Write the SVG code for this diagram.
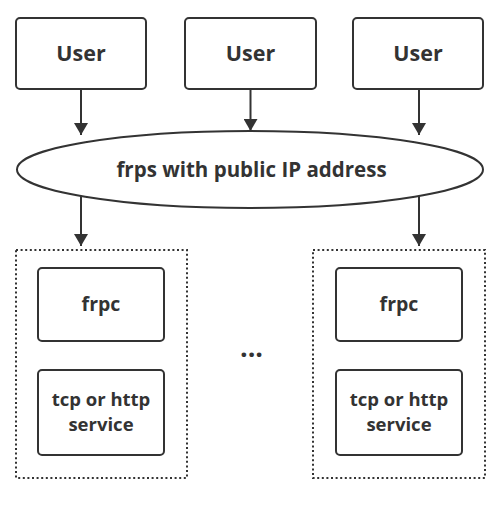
<svg xmlns="http://www.w3.org/2000/svg" width="499" height="509" viewBox="0 0 499 509">
<defs>
<style>
.box{fill:#fff;stroke:#333;stroke-width:2}
.dot{fill:none;stroke:#333;stroke-width:2;stroke-dasharray:2 2.6}
.t{font-family:"Open Sans","Noto Sans",sans-serif;font-weight:bold;fill:#333;text-anchor:middle}
.edge{stroke:#333;stroke-width:2;fill:none}
</style>
<marker id="arr" viewBox="0 0 12 14" refX="12" refY="7" markerWidth="12" markerHeight="14" markerUnits="userSpaceOnUse" orient="auto">
<path d="M0,0 L12,7 L0,14 Z" fill="#333"/>
</marker>
</defs>
<rect width="499" height="509" fill="#fff"/>
<g id="user1"><rect class="box" x="16" y="18" width="130" height="71" rx="4"/><text class="t" x="81" y="61" font-size="21.5">User</text></g>
<g id="user2"><rect class="box" x="185" y="18" width="131" height="71" rx="4"/><text class="t" x="250.5" y="61" font-size="21.5">User</text></g>
<g id="user3"><rect class="box" x="353" y="18" width="130" height="71" rx="4"/><text class="t" x="418" y="61" font-size="21.5">User</text></g>
<g id="frps"><ellipse class="box" cx="250" cy="169.5" rx="233" ry="38.5"/><text class="t" x="251.5" y="177" font-size="20.5">frps with public IP address</text></g>
<g id="client1">
<rect class="dot" x="16" y="250" width="171" height="228"/>
<g id="frpc1"><rect class="box" x="38" y="268" width="126" height="73" rx="4"/><text class="t" x="101" y="311" font-size="19.5">frpc</text></g>
<g id="svc1"><rect class="box" x="38" y="370" width="126" height="85" rx="4"/><text class="t" x="101" y="405.5" font-size="18.5">tcp or http</text><text class="t" x="101" y="431" font-size="18.5">service</text></g>
</g>
<g id="ellipsis"><text class="t" x="251.5" y="357" font-size="27">...</text></g>
<g id="client2">
<rect class="dot" x="313" y="250" width="172" height="228"/>
<g id="frpc2"><rect class="box" x="336" y="268" width="126" height="73" rx="4"/><text class="t" x="399" y="311" font-size="19.5">frpc</text></g>
<g id="svc2"><rect class="box" x="336" y="370" width="126" height="85" rx="4"/><text class="t" x="399" y="405.5" font-size="18.5">tcp or http</text><text class="t" x="399" y="431" font-size="18.5">service</text></g>
</g>
<g id="connectors">
<line class="edge" x1="81" y1="89" x2="81" y2="135" marker-end="url(#arr)"/>
<line class="edge" x1="250.5" y1="89" x2="250.5" y2="131" marker-end="url(#arr)"/>
<line class="edge" x1="419" y1="89" x2="419" y2="135" marker-end="url(#arr)"/>
<line class="edge" x1="81" y1="196" x2="81" y2="246" marker-end="url(#arr)"/>
<line class="edge" x1="419" y1="196" x2="419" y2="246" marker-end="url(#arr)"/>
</g>
</svg>
